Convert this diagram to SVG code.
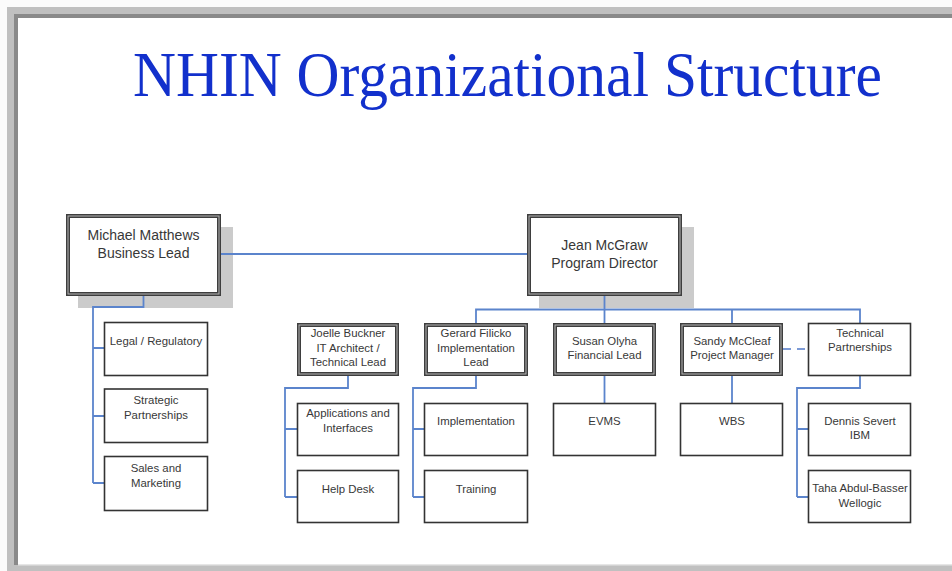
<svg xmlns="http://www.w3.org/2000/svg" width="952" height="571" viewBox="0 0 952 571">
  <style>
    .title { font-family: "Liberation Serif", "Times New Roman", serif; font-size: 64px; fill: #1230cc; }
    .t14 { font-family: "Liberation Sans", Arial, sans-serif; font-size: 14px; fill: #383838; text-anchor: middle; }
    .t11 { font-family: "Liberation Sans", Arial, sans-serif; font-size: 11.4px; fill: #383838; text-anchor: middle; }
    .shadow { fill: #cbcbcb; }
    .dbl { fill: #fff; stroke: #3e3e3e; stroke-width: 4; }
    .dbl-mid { fill: none; stroke: #b4b4b4; stroke-width: 1; }
    .box { fill: #fff; stroke: #333; stroke-width: 1.6; }
    .link { fill: none; stroke: #5b84cc; stroke-width: 1.8; }
    .dash { fill: none; stroke: #7c9ad6; stroke-width: 1.8; stroke-dasharray: 8 6; }
  </style>

  <!-- window frame -->
  <rect x="0" y="0" width="952" height="571" fill="#fbfbfb"/>
  <rect x="7" y="7" width="945" height="564" fill="#c0c0c0"/>
  <rect x="14" y="14" width="938" height="4" fill="#8a8a8a"/>
  <rect x="14" y="14" width="4" height="551" fill="#8a8a8a"/>
  <rect x="18" y="18" width="934" height="547" fill="#ffffff"/>
  <rect x="18" y="564" width="934" height="1.5" fill="#e6e6e6"/>

  <text class="title" x="133" y="96" textLength="749" lengthAdjust="spacingAndGlyphs">NHIN Organizational Structure</text>

  <!-- drop shadows of the two leads, beneath the connectors -->
  <g id="shadows">
    <rect class="shadow" x="78" y="227" width="155" height="81"/>
    <rect class="shadow" x="539" y="227" width="155" height="81"/>
  </g>

  <!-- connectors -->
  <g id="connectors">
    <path class="link" d="M221 254 H527"/>
    <path class="link" d="M143.5 296 V307 H93 V483 M93 348 H104 M93 416 H104 M93 483 H104"/>
    <path class="link" d="M604.5 296 V323 M476 323 V309.5 H860 V323 M732 309.5 V323"/>
    <path class="link" d="M348 376 V388 H285 V497 M285 429 H297 M285 497 H297"/>
    <path class="link" d="M476 376 V388 H413 V497 M413 429 H424 M413 497 H424"/>
    <path class="link" d="M604.5 376 V403"/>
    <path class="link" d="M732 376 V403"/>
    <path class="link" d="M860 376 V388 H797 V497 M797 429 H808 M797 497 H808"/>
    <path class="dash" d="M783 349 H808"/>
  </g>

  <!-- top level -->
  <g id="michael">
    <rect class="dbl" x="68" y="216" width="151" height="78"/>
    <rect class="dbl-mid" x="68" y="216" width="151" height="78"/>
    <text class="t14" x="143.5" y="240">Michael Matthews</text>
    <text class="t14" x="143.5" y="258">Business Lead</text>
  </g>
  <g id="jean">
    <rect class="dbl" x="529" y="216" width="151" height="78"/>
    <rect class="dbl-mid" x="529" y="216" width="151" height="78"/>
    <text class="t14" x="604.5" y="250">Jean McGraw</text>
    <text class="t14" x="604.5" y="268">Program Director</text>
  </g>

  <!-- business lead children -->
  <g id="legal">
    <rect class="box" x="104.5" y="322.5" width="103" height="53"/>
    <text class="t11" x="156" y="345">Legal / Regulatory</text>
  </g>
  <g id="strategic">
    <rect class="box" x="104.5" y="389" width="103" height="53.5"/>
    <text class="t11" x="156" y="404">Strategic</text>
    <text class="t11" x="156" y="419">Partnerships</text>
  </g>
  <g id="sales">
    <rect class="box" x="104.5" y="456.5" width="103" height="54"/>
    <text class="t11" x="156" y="472">Sales and</text>
    <text class="t11" x="156" y="487">Marketing</text>
  </g>

  <!-- second level -->
  <g id="joelle">
    <rect class="dbl" x="299" y="325" width="98" height="49"/>
    <rect class="dbl-mid" x="299" y="325" width="98" height="49"/>
    <text class="t11" x="348" y="337">Joelle Buckner</text>
    <text class="t11" x="348" y="352">IT Architect /</text>
    <text class="t11" x="348" y="366">Technical Lead</text>
  </g>
  <g id="gerard">
    <rect class="dbl" x="426" y="325" width="100" height="49"/>
    <rect class="dbl-mid" x="426" y="325" width="100" height="49"/>
    <text class="t11" x="476" y="337">Gerard Filicko</text>
    <text class="t11" x="476" y="352">Implementation</text>
    <text class="t11" x="476" y="366">Lead</text>
  </g>
  <g id="susan">
    <rect class="dbl" x="555" y="325" width="99" height="49"/>
    <rect class="dbl-mid" x="555" y="325" width="99" height="49"/>
    <text class="t11" x="604.5" y="345">Susan Olyha</text>
    <text class="t11" x="604.5" y="359">Financial Lead</text>
  </g>
  <g id="sandy">
    <rect class="dbl" x="682" y="325" width="99" height="49"/>
    <rect class="dbl-mid" x="682" y="325" width="99" height="49"/>
    <text class="t11" x="732" y="345">Sandy McCleaf</text>
    <text class="t11" x="732" y="359">Project Manager</text>
  </g>
  <g id="technical">
    <rect class="box" x="808.5" y="323.5" width="102" height="52"/>
    <text class="t11" x="860" y="337">Technical</text>
    <text class="t11" x="860" y="351">Partnerships</text>
  </g>

  <!-- third level -->
  <g id="applications">
    <rect class="box" x="297.5" y="403.5" width="101" height="52"/>
    <text class="t11" x="348" y="417">Applications and</text>
    <text class="t11" x="348" y="432">Interfaces</text>
  </g>
  <g id="helpdesk">
    <rect class="box" x="297.5" y="470.5" width="101" height="52"/>
    <text class="t11" x="348" y="493">Help Desk</text>
  </g>
  <g id="implementation">
    <rect class="box" x="424.5" y="403.5" width="103" height="52"/>
    <text class="t11" x="476" y="425">Implementation</text>
  </g>
  <g id="training">
    <rect class="box" x="424.5" y="470.5" width="103" height="52"/>
    <text class="t11" x="476" y="493">Training</text>
  </g>
  <g id="evms">
    <rect class="box" x="553.5" y="403.5" width="102" height="52"/>
    <text class="t11" x="604.5" y="425">EVMS</text>
  </g>
  <g id="wbs">
    <rect class="box" x="680.5" y="403.5" width="102" height="52"/>
    <text class="t11" x="732" y="425">WBS</text>
  </g>
  <g id="dennis">
    <rect class="box" x="808.5" y="403.5" width="102" height="52"/>
    <text class="t11" x="860" y="425">Dennis Severt</text>
    <text class="t11" x="860" y="439">IBM</text>
  </g>
  <g id="taha">
    <rect class="box" x="808.5" y="470.5" width="102" height="52"/>
    <text class="t11" x="860" y="492">Taha Abdul-Basser</text>
    <text class="t11" x="860" y="507">Wellogic</text>
  </g>
</svg>
